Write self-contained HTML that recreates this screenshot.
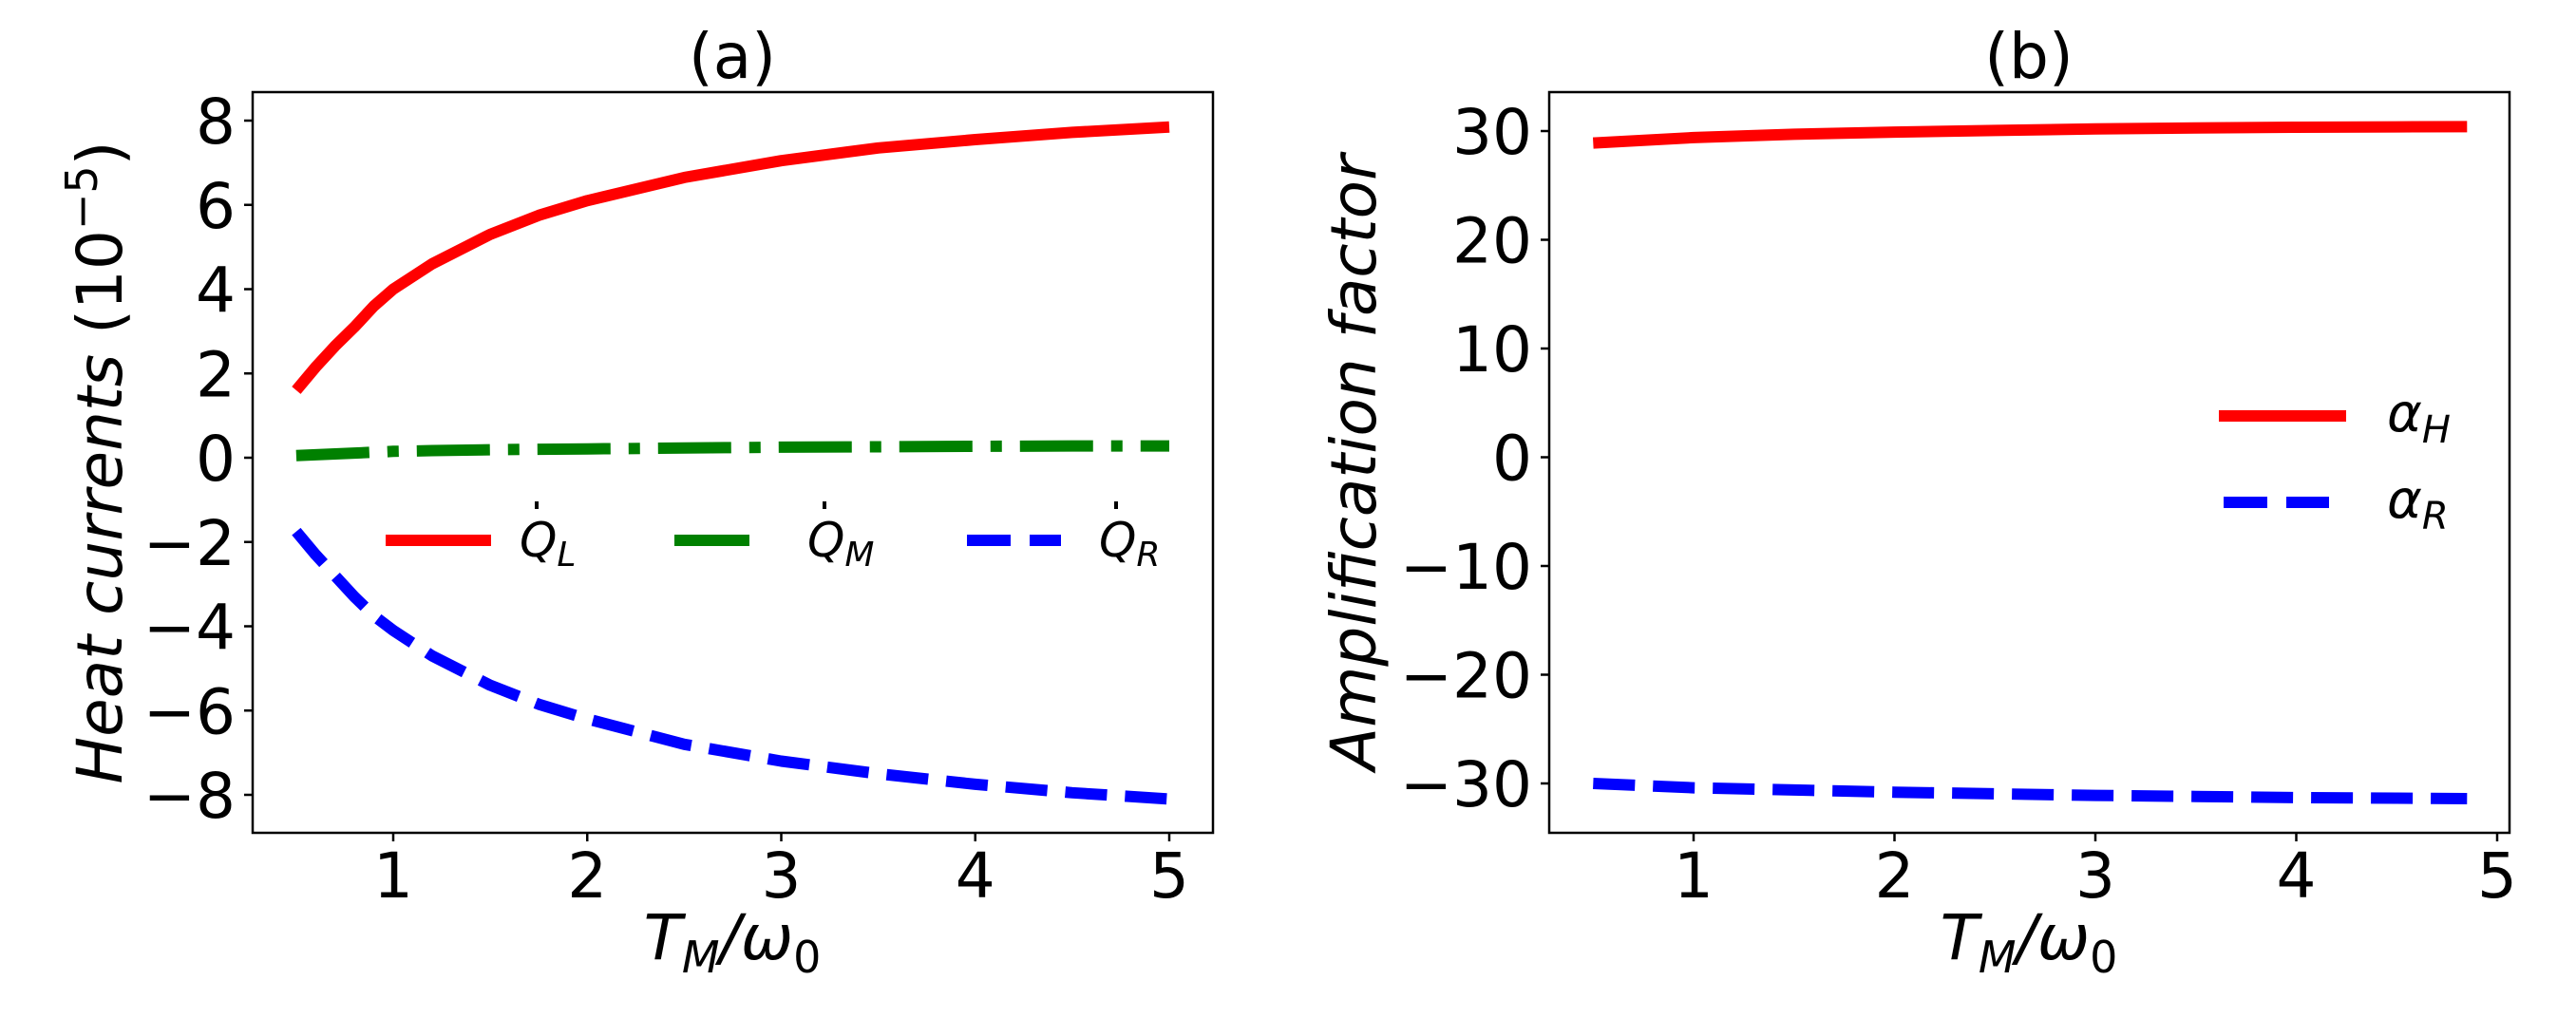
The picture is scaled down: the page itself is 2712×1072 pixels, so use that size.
<!DOCTYPE html>
<html><head><meta charset="utf-8"><style>
html,body{margin:0;padding:0;background:#fff}
svg{display:block}
text{font-family:"DejaVu Sans","Liberation Sans",sans-serif;fill:#000}
</style></head><body>
<svg id="chart" width="2712" height="1072" viewBox="0 0 2712 1072" xmlns="http://www.w3.org/2000/svg">
<g id="pa"></g>
<g id="pb"></g>
</svg>
<script>
const xA = [0.5,0.6,0.7,0.8,0.9,1.0,1.2,1.5,1.75,2.0,2.5,3.0,3.5,4.0,4.5,5.0];
const qL = [1.6,2.15,2.65,3.1,3.6,4.0,4.6,5.3,5.75,6.1,6.65,7.05,7.35,7.55,7.72,7.85];
const qM = [0.05,0.07,0.09,0.11,0.13,0.15,0.17,0.19,0.2,0.21,0.23,0.25,0.26,0.27,0.28,0.28];
const qR = [-1.75,-2.3,-2.8,-3.3,-3.75,-4.1,-4.7,-5.4,-5.85,-6.2,-6.8,-7.2,-7.5,-7.75,-7.95,-8.1];
const xB = [0.5,1.0,1.5,2.0,2.5,3.0,3.5,4.0,4.5,4.85];
const aH = [28.9,29.4,29.7,29.9,30.05,30.2,30.28,30.35,30.38,30.4];
const aR = [-30.0,-30.4,-30.6,-30.8,-30.95,-31.1,-31.2,-31.3,-31.35,-31.4];
const xTicksA = [1,2,3,4,5];
const yTicksA = [-8,-6,-4,-2,0,2,4,6,8];
const xTicksB = [1,2,3,4,5];
const yTicksB = [-30,-20,-10,0,10,20,30];
const NS = 'http://www.w3.org/2000/svg';
function mk(p, tag, attrs){const e=document.createElementNS(NS,tag);for(const k in attrs)e.setAttribute(k,attrs[k]);p.appendChild(e);return e;}
function fmt(v){return v<0?'\u2212'+Math.abs(v):String(v);}
function panel(g, box, xd, yd, xt, yt){
  const sx=v=>box.x0px+(v-xd[0])*(box.x1px-box.x0px)/(xd[1]-xd[0]);
  const sy=v=>box.y0px+(v-yd[0])*(box.y1px-box.y0px)/(yd[1]-yd[0]);
  const fr=mk(g,'rect',{x:box.L,y:box.T,width:box.R-box.L,height:box.B-box.T,fill:'none',stroke:'#000','stroke-width':2.5});
  
  
  xt.forEach(v=>{
    const l=mk(g,'line',{x1:sx(v),x2:sx(v),y1:box.B,y2:box.B+9,stroke:'#000','stroke-width':2.5});
    
    
    const t=mk(g,'text',{x:sx(v),y:945,'font-size':66,'text-anchor':'middle'});t.textContent=fmt(v);
    
    
  });
  yt.forEach(v=>{
    const l=mk(g,'line',{x1:box.L-9,x2:box.L,y1:sy(v),y2:sy(v),stroke:'#000','stroke-width':2.5});
    
    
    const t=mk(g,'text',{x:box.L-18,y:sy(v)+24,'font-size':66,'text-anchor':'end'});t.textContent=fmt(v);
    
    
  });
  return {sx,sy};
}
function series(g,sc,xs,ys,color,dash,name){
  const d=xs.map((x,i)=>(i?'L':'M')+sc.sx(x).toFixed(1)+','+sc.sy(ys[i]).toFixed(1)).join(' ');
  const p=mk(g,'path',{d:d,fill:'none',stroke:color,'stroke-width':12,'stroke-dasharray':dash||'none','stroke-linejoin':'round'});
  
  
}
function txt(g,x,y,s,html,extra,name){
  const t=mk(g,'text',Object.assign({x:x,y:y,'font-size':s},extra||{}));t.innerHTML=html;
  
  
  return t;
}
// Panel A
const ga=document.getElementById('pa');
const A=panel(ga,{L:266,R:1277,T:97,B:877,x0px:414,x1px:1231,y0px:837,y1px:127},[1,5],[-8,8],xTicksA,yTicksA);
series(ga,A,xA,qL,'#ff0000',null,'series-qL');
series(ga,A,xA,qM,'#008000','77 19 12 19','series-qM');
series(ga,A,xA,qR,'#0000ff','44 19','series-qR');
txt(ga,771,82,66,'(a)',{'text-anchor':'middle'},'title-a');
txt(ga,771,1010,66,'<tspan font-style="italic">T</tspan><tspan font-style="italic" font-size="46" dy="14">M</tspan><tspan dy="-14" font-style="italic">/ω</tspan><tspan font-size="46" dy="14">0</tspan>',{'text-anchor':'middle'},'x-axis-title-a');
txt(ga,0,0,66,'<tspan font-style="italic">Heat currents</tspan> (10<tspan font-size="46" dy="-26">−5</tspan><tspan dy="26">)</tspan>',{'text-anchor':'middle',transform:'translate(128,487) rotate(-90)'},'y-axis-title-a');
// legend A
const lg=[[406,517,'#ff0000','none','L'],[710,789,'#008000','none','M'],[1018,1117,'#0000ff','46 20','R']];
lg.forEach((e,i)=>{
  const l=mk(ga,'line',{x1:e[0],x2:e[1],y1:569,y2:569,stroke:e[2],'stroke-width':12,'stroke-dasharray':e[3]});
  
  
  const lx=[547,850,1157][i];
  txt(ga,lx,586,50,'<tspan font-style="italic">Q</tspan><tspan font-style="italic" font-size="36" dy="10">'+e[4]+'</tspan>',{},'legend-label');
  const dot=mk(ga,'rect',{x:lx+16,y:528,width:4,height:8,fill:'#000'});
  
  
});
// Panel B
const gb=document.getElementById('pb');
const B=panel(gb,{L:1631,R:2642,T:97,B:877,x0px:1783,x1px:2629,y0px:825,y1px:138},[1,5],[-30,30],xTicksB,yTicksB);
series(gb,B,xB,aH,'#ff0000',null,'series-alphaH');
series(gb,B,xB,aR,'#0000ff','44 19','series-alphaR');
txt(gb,2136,82,66,'(b)',{'text-anchor':'middle'},'title-b');
txt(gb,2136,1010,66,'<tspan font-style="italic">T</tspan><tspan font-style="italic" font-size="46" dy="14">M</tspan><tspan dy="-14" font-style="italic">/ω</tspan><tspan font-size="46" dy="14">0</tspan>',{'text-anchor':'middle'},'x-axis-title-b');
txt(gb,0,0,66,'<tspan font-style="italic">Amplification factor</tspan>',{'text-anchor':'middle',transform:'translate(1448,487) rotate(-90)'},'y-axis-title-b');
[[438,'#ff0000','none','H',2336,2470],[529,'#0000ff','46 20','R',2341,2452]].forEach(e=>{
  const l=mk(gb,'line',{x1:e[4],x2:e[5],y1:e[0],y2:e[0],stroke:e[1],'stroke-width':12,'stroke-dasharray':e[2]});
  
  
  txt(gb,2513,e[0]+16,56,'<tspan font-style="italic">α</tspan><tspan font-style="italic" font-size="40" dy="12">'+e[3]+'</tspan>',{},'legend-label');
});
</script>
</body></html>
